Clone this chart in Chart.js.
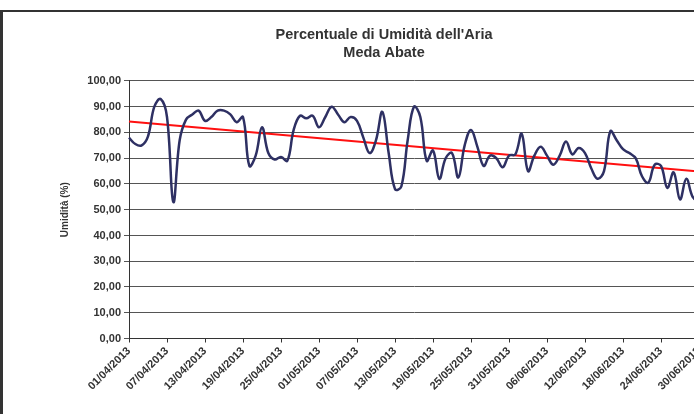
<!DOCTYPE html>
<html>
<head>
<meta charset="utf-8">
<script src="https://cdn.jsdelivr.net/npm/chart.js@4"></script>
<style>
  html, body { margin: 0; padding: 0; background: #fff; overflow: hidden; width: 694px; height: 414px; }
  .frame { position: absolute; left: 0; top: 10px; width: 800px; height: 420px; border-top: 2px solid #333; border-left: 3px solid #333; }
  .box { position: absolute; left: 0; top: 0; width: 762px; height: 402px; }
</style>
</head>
<body>
<div class="frame"><div class="box"><canvas id="umid"></canvas></div></div>
<script>
// Aprile - Giugno 2013, Meda Abate
const giorni = [
  '01/04/2013','02/04/2013','03/04/2013','04/04/2013','05/04/2013','06/04/2013','07/04/2013','08/04/2013','09/04/2013','10/04/2013',
  '11/04/2013','12/04/2013','13/04/2013','14/04/2013','15/04/2013','16/04/2013','17/04/2013','18/04/2013','19/04/2013','20/04/2013',
  '21/04/2013','22/04/2013','23/04/2013','24/04/2013','25/04/2013','26/04/2013','27/04/2013','28/04/2013','29/04/2013','30/04/2013',
  '01/05/2013','02/05/2013','03/05/2013','04/05/2013','05/05/2013','06/05/2013','07/05/2013','08/05/2013','09/05/2013','10/05/2013',
  '11/05/2013','12/05/2013','13/05/2013','14/05/2013','15/05/2013','16/05/2013','17/05/2013','18/05/2013','19/05/2013','20/05/2013',
  '21/05/2013','22/05/2013','23/05/2013','24/05/2013','25/05/2013','26/05/2013','27/05/2013','28/05/2013','29/05/2013','30/05/2013',
  '31/05/2013','01/06/2013','02/06/2013','03/06/2013','04/06/2013','05/06/2013','06/06/2013','07/06/2013','08/06/2013','09/06/2013',
  '10/06/2013','11/06/2013','12/06/2013','13/06/2013','14/06/2013','15/06/2013','16/06/2013','17/06/2013','18/06/2013','19/06/2013',
  '20/06/2013','21/06/2013','22/06/2013','23/06/2013','24/06/2013','25/06/2013','26/06/2013','27/06/2013','28/06/2013','29/06/2013',
  '30/06/2013'
];

// umidità relativa media giornaliera (%)
const umidita = [
  78, 75.5, 75, 78.5, 90, 93, 86, 53, 77, 85,
  87, 88.5, 84.5, 86, 88.5, 88.5, 87, 84, 86, 67,
  71, 82, 72, 69.5, 70.5, 69, 81, 86.5, 85.5, 86.5,
  82, 86, 90, 87, 84, 86, 84.5, 78, 72, 77,
  88, 72, 58, 59, 77, 90, 86, 69, 73, 62,
  70, 72, 62.5, 75, 81, 74.5, 67, 71, 70, 66.5,
  71, 71.5, 79.5, 65, 71, 74.5, 71, 67.5, 71, 76.5,
  71.5, 74, 72, 66, 62, 65, 80.5, 77, 73.5, 72,
  70, 63, 60.5, 67.5, 67, 58.5, 64.5, 54, 62, 55,
  53
];

// linea di tendenza (lineare): estremi
const tendenzaInizio = 84.3;
const tendenzaFine = 64.8;
const tendenza = giorni.map((g, i) => i === 0 ? tendenzaInizio : (i === giorni.length - 1 ? tendenzaFine : null));

const yTicks = [0, 10, 20, 30, 40, 50, 60, 70, 80, 90, 100];
const passoEtichette = 6;

const BLU = '#2e3063', ROSSO = '#ff1010', TESTO = '#333333';
const FONT = 'Liberation Sans, Arial, sans-serif';

new Chart(document.getElementById('umid'), {
  type: 'line',
  data: {
    labels: giorni,
    datasets: [
      { label: 'Umidità', data: umidita, borderColor: BLU, borderWidth: 2.5, pointRadius: 0, tension: 0.4, fill: false },
      { label: 'Tendenza', data: tendenza, borderColor: ROSSO, borderWidth: 2, pointRadius: 0, spanGaps: true, fill: false }
    ]
  },
  options: {
    responsive: true,
    maintainAspectRatio: false,
    animation: false,
    layout: { padding: 0 },
    plugins: {
      legend: { display: false },
      tooltip: { enabled: false },
      title: {
        display: true,
        text: ["Percentuale di Umidità dell'Aria", 'Meda Abate'],
        color: TESTO,
        font: { family: FONT, size: 14.5, weight: 'bold', lineHeight: 1.24 },
        padding: { top: 14, bottom: 19 }
      }
    },
    scales: {
      x: {
        grid: {
          drawOnChartArea: false,
          tickLength: 4,
          color: ctx => (ctx.index % passoEtichette === 0 ? TESTO : 'rgba(0,0,0,0)')
        },
        border: { color: TESTO, width: 1 },
        ticks: {
          autoSkip: false,
          minRotation: 45,
          maxRotation: 45,
          padding: 2,
          color: TESTO,
          font: { family: FONT, size: 11, weight: 'bold' },
          callback: (v, i) => (i % passoEtichette === 0 ? giorni[i] : '')
        },
        afterFit: s => { s.height = 75.5; }
      },
      y: {
        min: 0,
        max: 100,
        afterBuildTicks: s => { s.ticks = yTicks.map(v => ({ value: v })); },
        grid: { color: '#555555', lineWidth: 1, tickLength: 5 },
        border: { color: TESTO, width: 1 },
        ticks: {
          padding: 3,
          color: TESTO,
          font: { family: FONT, size: 11, weight: 'bold' },
          callback: v => v.toFixed(2).replace('.', ',')
        },
        title: {
          display: true,
          text: 'Umidità (%)',
          color: TESTO,
          font: { family: FONT, size: 10, weight: 'bold' },
          padding: { top: 56, bottom: 0 }
        },
        afterFit: s => { s.width = 126; }
      },
      // spazio vuoto a destra (il grafico originale prosegue oltre il bordo)
      destra: {
        position: 'right',
        display: true,
        min: 0,
        max: 100,
        grid: { display: false },
        border: { display: false },
        ticks: { display: false },
        afterFit: s => { s.width = 66; }
      }
    }
  }
});
</script>
</body>
</html>
